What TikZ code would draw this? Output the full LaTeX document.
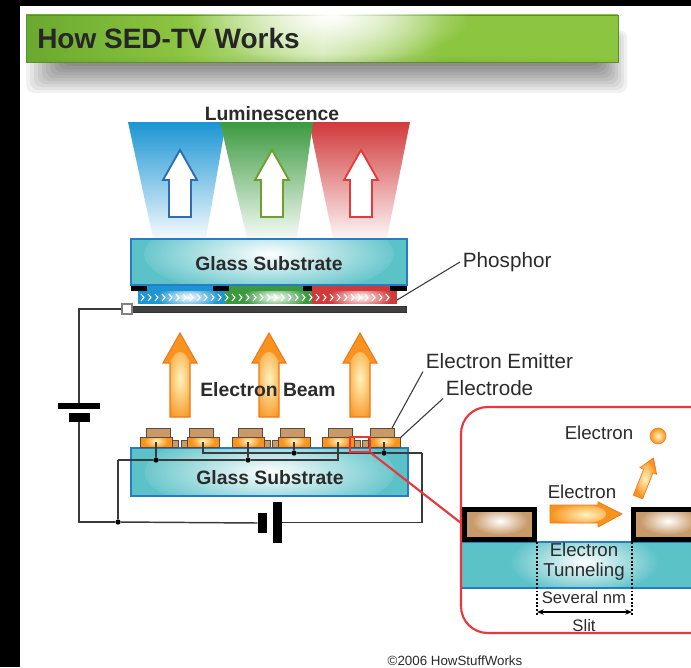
\documentclass[tikz,border=0pt]{standalone}
\usepackage{fontspec}
\setmainfont{Liberation Sans}
\usetikzlibrary{fadings,arrows.meta}

% palette
\definecolor{titlegreen}{HTML}{8CC540}
\definecolor{titledark}{HTML}{6AA92F}
\definecolor{titlelight}{HTML}{F2F9E4}
\colorlet{titlemid}{titlegreen!35!titlelight}
\definecolor{inktext}{HTML}{2B2B2B}
\definecolor{glasscyan}{HTML}{5BC2C8}
\definecolor{glassedge}{HTML}{2A7CC0}
\definecolor{beamorange}{HTML}{F7931E}
\definecolor{beamedge}{HTML}{F07818}
\definecolor{beamglow}{HTML}{FFF4BE}
\definecolor{emittan}{HTML}{C99A69}
\definecolor{emitedge}{HTML}{5E4A38}
\definecolor{lumblue}{HTML}{1B95D3}
\definecolor{lumgreen}{HTML}{3B9A3F}
\definecolor{lumred}{HTML}{D13A3B}
\definecolor{wiregray}{HTML}{3A3A3A}
\definecolor{insetred}{HTML}{E8383D}
\definecolor{arrowblue}{HTML}{2C6DB5}
\definecolor{arrowgreen}{HTML}{6E9E2E}
\definecolor{arrowred}{HTML}{E53A3A}

\pgfdeclarehorizontalshading{titlebarshade}{100bp}{%
  color(0bp)=(titledark); color(25bp)=(titledark); color(38bp)=(titlegreen);
  color(50bp)=(titlemid); color(60bp)=(titlegreen); color(75bp)=(titlegreen);
  color(100bp)=(titlegreen)}

\tikzfading[name=softglow, inner color=transparent!0, outer color=transparent!100]

% fill a region and lay a soft glow over it
\newcommand\glowpath[5]{%
  \fill[#2] #1;
  \begin{scope}
    \clip #1;
    \fill[#3, path fading=softglow] #4 ellipse #5;
  \end{scope}}

\tikzset{
  wire/.style={draw=wiregray, line width=1.1},
  leader/.style={draw=wiregray, line width=0.8},
  junction/.style={circle, fill=black, inner sep=0pt, minimum size=4pt},
  plate/.style={fill=black, inner sep=0pt},
  boldlabel/.style={text=inktext, font=\bfseries\fontsize{14.5}{17}\selectfont, inner sep=1pt},
  callout/.style={text=inktext, font=\fontsize{15.5}{18}\selectfont, inner sep=2pt},
  insettext/.style={text=inktext, font=\fontsize{14}{15}\selectfont, inner sep=1pt, align=center},
  smalltext/.style={text=inktext, font=\fontsize{12.5}{14}\selectfont, inner sep=1pt},
  glassbox/.style={draw=glassedge, line width=1.2, fill=glasscyan, inner sep=0pt,
    path picture={\fill[white, path fading=softglow]
      ([yshift=#1]path picture bounding box.center) ellipse (125 and 42);}},
  glassbox/.default=0pt,
  outline/.style={draw=emitedge, line width=0.5},
}

\begin{document}
\begin{tikzpicture}[x=0.75pt,y=-0.75pt]
\useasboundingbox (0,0) rectangle (691,667);
\begin{scope}
\clip (0,0) rectangle (691,667);
\fill[white] (0,0) rectangle (691,667);

% ---------- title bar ----------
% soft drop shadow: stacked translucent layers
\foreach \k in {0,...,9}{
  \fill[black, opacity=0.055, rounded corners=6pt]
    (26+4*\k,30+\k) rectangle (627-3*\k,93-3*\k);
}
\shade[shading=titlebarshade, draw=titledark!85!black, line width=0.6]
  (26,15) rectangle (618,62);
\begin{scope}
  \clip (26,15) rectangle (618,62);
  \fill[white, path fading=softglow] (330,16) ellipse (140 and 50);
  \fill[black, path fading=softglow, fill opacity=0.12] (330,68) ellipse (420 and 14);
\end{scope}
\node[anchor=west, text=black!85, font=\bfseries\fontsize{21}{24}\selectfont, inner sep=0pt]
  (title) at (37,38) {How SED-TV Works};

% ---------- luminescence cones ----------
\node[boldlabel] (lum) at (272,114) {Luminescence};
\shade[top color=lumblue, middle color=lumblue!45, bottom color=lumblue!5]
  (128,122) -- (226,122) -- (206,238) -- (153,238) -- cycle;
\shade[top color=lumred, middle color=lumred!45, bottom color=lumred!5]
  (309,122) -- (410,122) -- (387,238) -- (333,238) -- cycle;
\shade[top color=lumgreen, middle color=lumgreen!45, bottom color=lumgreen!5]
  (220,122) -- (313,122) -- (297,238) -- (247,238) -- cycle;
\foreach \cx/\col in {180/arrowblue, 272/arrowgreen, 361/arrowred}{
  \draw[\col, line width=1.4, fill=white]
    (\cx,150) -- (\cx+17,180) -- (\cx+11,180) -- (\cx+11,217) -- (\cx-11,217)
    -- (\cx-11,180) -- (\cx-17,180) -- cycle;
}

% ---------- front plate ----------
\node[glassbox=6pt, minimum width=207pt, minimum height=34.5pt] (topglass) at (269,262) {};
\node[boldlabel] (topglasslabel) at (269,264) {Glass Substrate};

% black matrix and phosphor stripes
\fill[black] (131,286) rectangle (407,291);
\fill[lumblue] (147,286) rectangle (213,291);
\fill[lumgreen] (229,286) rectangle (303,291);
\fill[lumred] (312,286) rectangle (390,291);
\glowpath{(138,291) rectangle (225,304)}{lumblue}{white}{(188,297)}{(32 and 12)}
\glowpath{(225,291) rectangle (312,304)}{lumgreen}{white}{(275,297)}{(32 and 12)}
\glowpath{(312,291) rectangle (397,304)}{lumred}{white}{(360,297)}{(32 and 12)}
\foreach \x in {141,148,...,392}{
  \draw[white, line width=0.8] (\x,294) -- (\x+3,297.5) -- (\x,301);
}
% metal back layer
\shade[top color=black!75, middle color=gray!45, bottom color=black!75, draw=black!80, line width=0.4]
  (131,306) rectangle (406,312);
\node[draw=gray, fill=white, line width=0.8, minimum size=7.5pt, inner sep=0pt] (term) at (127,309) {};

\node[callout, anchor=west] (phos) at (460,262) {Phosphor};
\coordinate (phosend) at (397,300);
\draw[leader] (phos.west) -- (phosend);

% ---------- electron beams ----------
\foreach \cx in {180,269,360}{
  \path[fill=beamorange, draw=beamedge, line width=0.8,
    path picture={\fill[beamglow, path fading=softglow] (\cx,388) ellipse (14 and 36);}]
    (\cx,333) -- (\cx+17,363) -- (\cx+10,363) -- (\cx+10,417) -- (\cx-10,417)
    -- (\cx-10,363) -- (\cx-17,363) -- cycle;
}
\node[boldlabel] (beam) at (268,390) {Electron Beam};

% ---------- rear plate ----------
\node[glassbox, minimum width=207.75pt, minimum height=36pt] (botglass) at (269.5,472) {};
\node[boldlabel] (botglasslabel) at (270,478) {Glass Substrate};

% emitter / electrode pairs
\foreach \cx/\s in {156/1,203/-1,248/1,294/-1,338/1,384/-1}{
  \fill[emittan, outline] (\cx+16*\s,440) rectangle (\cx+22*\s,447);
  \glowpath{(\cx-16,437) rectangle (\cx+16,447)}{beamorange}{beamglow}{(\cx,441)}{(12 and 7)}
  \draw[outline] (\cx-16,437) rectangle (\cx+16,447);
  \fill[emittan, outline] (\cx-10*\s,428) rectangle (\cx+14*\s,437);
}

% interleaved electrode wiring
\coordinate (cl) at (118,460);
\coordinate (cr) at (422,453);
\node[junction] (ja) at (156,460) {};
\node[junction] (jb) at (248,460) {};
\node[junction] (jc) at (294,453) {};
\node[junction] (jd) at (384,453) {};
\coordinate (ea) at (156,442);
\coordinate (eb) at (248,442);
\coordinate (ec) at (294,442);
\coordinate (ed) at (384,442);
\coordinate (ee) at (338,442);
\coordinate (ef) at (203,442);
\draw[wire] (cl) -- (ja) -- (jb) -- (338,460) -- (ee);
\draw[wire] (ja) -- (ea) (jb) -- (eb);
\draw[wire] (ef) -- (203,453) -- (jc) -- (jd) -- (cr);
\draw[wire] (jc) -- (ec) (jd) -- (ed);

% magnified region marker
\node[draw=insetred, line width=1.6, minimum width=15pt, minimum height=11.25pt, inner sep=0pt]
  (zoombox) at (360,444.5) {};

% ---------- supply circuit ----------
\node[plate, minimum width=31.5pt, minimum height=4.5pt] (bataLong) at (79,406) {};
\node[plate, minimum width=15.75pt, minimum height=6.75pt] (bataShort) at (79,417.5) {};
\node[plate, minimum width=6.75pt, minimum height=15pt] (batbShort) at (262.5,523) {};
\node[plate, minimum width=6.75pt, minimum height=30.75pt] (batbLong) at (277.5,522.5) {};
\node[junction] (jl) at (118,522) {};
\draw[wire] (term.west) -| (bataLong.north);
\draw[wire] (bataShort.south) |- (jl);
\draw[wire] (jl) -- (cl);
\draw[wire] (jl) -- (batbShort.west);
\draw[wire] (batbLong.east) -| (cr);

% callouts
\node[callout, anchor=west] (emit) at (423,361) {Electron Emitter};
\node[callout, anchor=west] (electrode) at (443,388) {Electrode};
\coordinate (emitend) at (392,428);
\coordinate (electrodeend) at (400,438);
\draw[leader] (emit.south west) -- (emitend);
\draw[leader] (electrode.south west) -- (electrodeend);

% ---------- magnified slit ----------
\coordinate (insetport) at (461,523);
\draw[insetred, line width=1.6] (zoombox.south east) -- (insetport);
\begin{scope}
  \clip[rounded corners=20pt] (461,407) rectangle (760,633);
  \glowpath{(461,542) rectangle (700,588)}{glasscyan}{white}{(584,562)}{(75 and 32)}
  \draw[glassedge, line width=1] (461,542) -- (700,542) (461,588) -- (700,588);
  \fill[black] (461,507) rectangle (537,542);
  \glowpath{(467,512) rectangle (532,537)}{emittan}{white}{(500,521)}{(28 and 14)}
  \fill[black] (631,507) rectangle (700,542);
  \glowpath{(636,512) rectangle (700,537)}{emittan}{white}{(668,521)}{(28 and 14)}
\end{scope}
\draw[insetred, line width=1.6, rounded corners=20pt] (461,407) rectangle (760,633);

\coordinate (slitTL) at (537,542);
\coordinate (slitTR) at (632,542);
\coordinate (slitL) at (537,612);
\coordinate (slitR) at (632,612);
\draw[black, line width=1.3, dash pattern=on 1.4pt off 1.4pt] (slitTL) -- (537,616);
\draw[black, line width=1.3, dash pattern=on 1.4pt off 1.4pt] (slitTR) -- (632,616);
\draw[black, line width=0.9, {Stealth[length=5pt,width=4pt]}-{Stealth[length=5pt,width=4pt]}] (slitL) -- (slitR);

% tunnelling electron and emitted electron
\path[fill=beamorange, draw=beamedge, line width=0.6,
  path picture={\fill[beamglow, path fading=softglow] (578,514) ellipse (28 and 10);}]
  (550,505) -- (598,505) -- (598,502) -- (622,514) -- (598,527) -- (598,523) -- (550,523) -- cycle;
\path[fill=beamorange, draw=beamedge, line width=0.5,
  path picture={\fill[beamglow, path fading=softglow] (646,480) ellipse (10 and 18);}]
  (633.36,495.17) -- (643.64,469.16) -- (639.92,467.69) -- (653.41,457.98)
  -- (656.64,474.29) -- (652.93,472.83) -- (642.65,498.84) -- cycle;
\node[circle, inner sep=0pt, minimum size=12pt, shading=radial, inner color=beamglow,
  outer color=beamorange, draw=beamedge, line width=0.4] (ball) at (658,436) {};

\node[insettext] (etop) at (599,433) {Electron};
\node[insettext] (emid) at (582,492) {Electron};
\node[insettext] (tunnel) at (584,562) {Electron\\Tunneling};
\node[smalltext] (nm) at (584,598) {Several nm};
\node[smalltext] (slit) at (584,626) {Slit};

% credit line
\node[text=inktext, font=\fontsize{10}{12}\selectfont, inner sep=0pt] (credit) at (455,661)
  {©2006 HowStuffWorks};

% frame edges
\fill[black] (0,0) rectangle (20,667);
\fill[black] (0,0) rectangle (691,6);
\end{scope}
\end{tikzpicture}
\end{document}
